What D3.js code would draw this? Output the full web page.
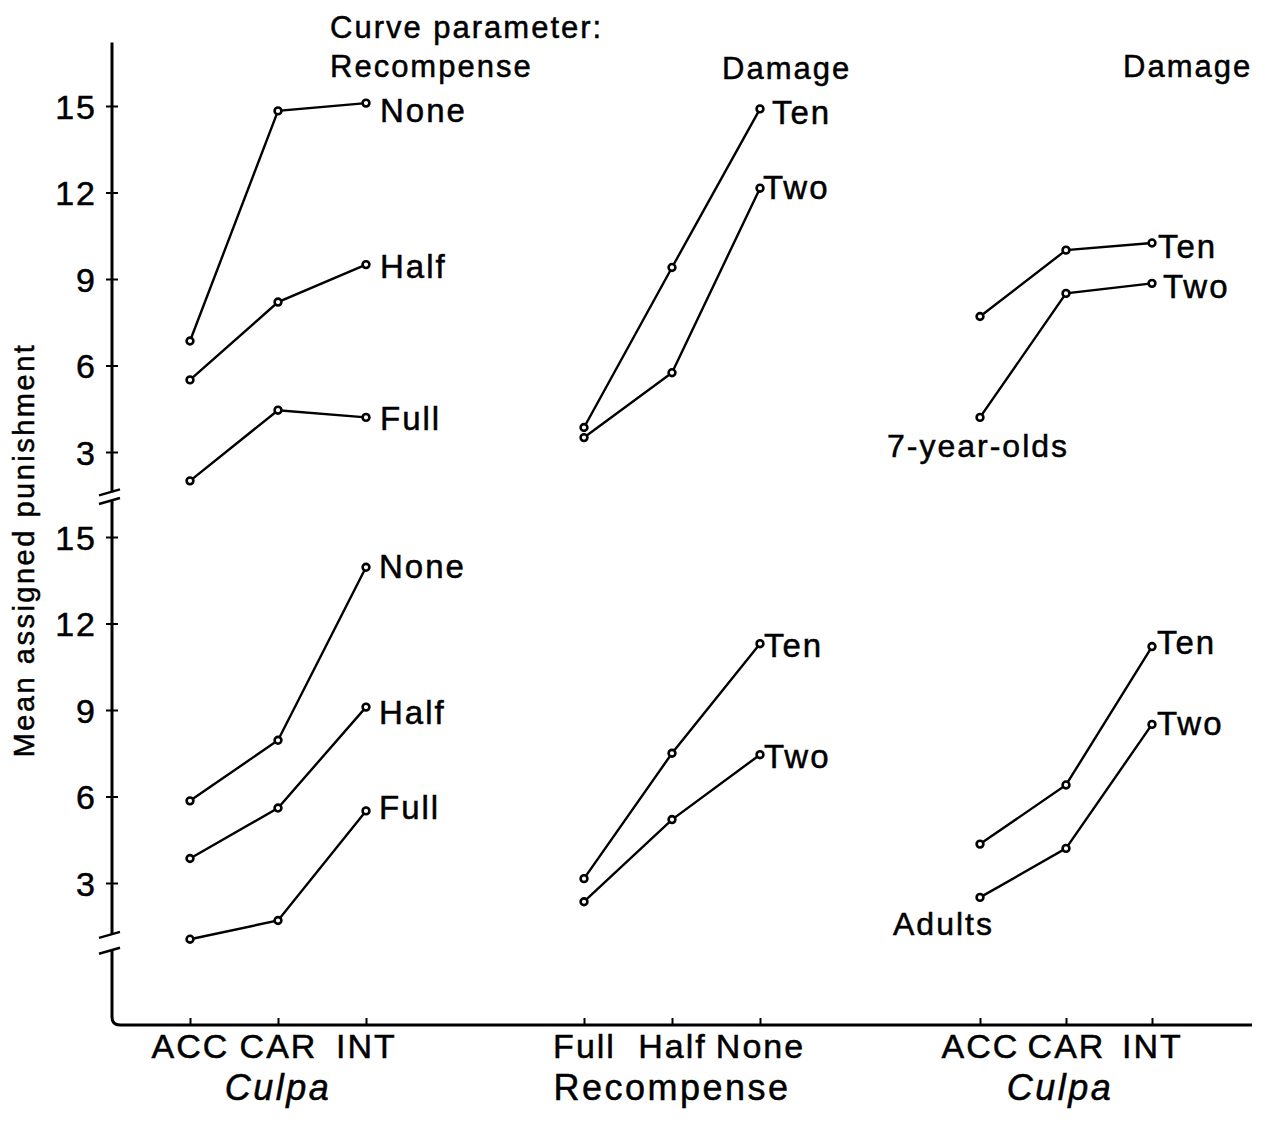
<!DOCTYPE html>
<html>
<head>
<meta charset="utf-8">
<script src="https://cdn.jsdelivr.net/npm/d3@7"></script>
<style>
  body { margin: 0; background: #fff; }
  svg { display: block; font-family: "Liberation Sans", Arial, sans-serif; }
  svg text { stroke: black; stroke-width: 0.5px; }
</style>
</head>
<body>
<div id="chart"></div>
<script>
// categories
var culpaLevels = ["ACC", "CAR", "INT"]
var recompLevels = ["Full", "Half", "None"]
var yTicks = [3, 6, 9, 12, 15]

// 7-year-olds (top)
var kidsCulpaNone = [6.85, 14.83, 15.1]
var kidsCulpaHalf = [5.5, 8.2, 9.5]
var kidsCulpaFull = [2.0, 4.45, 4.2]
var kidsRecompTen = [3.85, 9.4, 14.9]
var kidsRecompTwo = [3.5, 5.75, 12.15]
var kidsCulpaTen = [7.7, 10.0, 10.25]
var kidsCulpaTwo = [4.2, 8.5, 8.85]

// adults (bottom)
var adultCulpaNone = [5.85, 7.95, 13.95]
var adultCulpaHalf = [3.85, 5.6, 9.1]
var adultCulpaFull = [1.05, 1.7, 5.5]
var adultRecompTen = [3.15, 7.5, 11.3]
var adultRecompTwo = [2.35, 5.2, 7.45]
var adultCulpaTen = [4.35, 6.4, 11.2]
var adultCulpaTwo = [2.5, 4.2, 8.5]

var width = 1267, height = 1124
var axisX = 112, axisY = 1025

var svg = d3.select("#chart")
    .append("svg")
        .attr("width", width)
        .attr("height", height)

// scales
var yTop = d3.scaleLinear().domain([3, 15]).range([452, 106])
var yBot = d3.scaleLinear().domain([3, 15]).range([883, 537])

var xL = d3.scalePoint().domain(culpaLevels).range([190, 366])
var xM = d3.scalePoint().domain(recompLevels).range([584, 760])
var xR = d3.scalePoint().domain(culpaLevels).range([980, 1152])

var panels = [
    { x: xL, y: yTop, levels: culpaLevels, dx: 14, series: [
        { name: "None", values: kidsCulpaNone, dy: 7 },
        { name: "Half", values: kidsCulpaHalf, dy: 2 },
        { name: "Full", values: kidsCulpaFull, dy: 1 } ] },
    { x: xM, y: yTop, levels: recompLevels, dx: 8, series: [
        { name: "Ten", values: kidsRecompTen, dy: 3, dx: 12 },
        { name: "Two", values: kidsRecompTwo, dy: -1, dx: 3 } ] },
    { x: xR, y: yTop, levels: culpaLevels, dx: 8, series: [
        { name: "Ten", values: kidsCulpaTen, dy: 3, dx: 6 },
        { name: "Two", values: kidsCulpaTwo, dy: 3, dx: 11 } ] },
    { x: xL, y: yBot, levels: culpaLevels, dx: 13, series: [
        { name: "None", values: adultCulpaNone, dy: -1 },
        { name: "Half", values: adultCulpaHalf, dy: 5 },
        { name: "Full", values: adultCulpaFull, dy: -4 } ] },
    { x: xM, y: yBot, levels: recompLevels, dx: 4, series: [
        { name: "Ten", values: adultRecompTen, dy: 1 },
        { name: "Two", values: adultRecompTwo, dy: 1 } ] },
    { x: xR, y: yBot, levels: culpaLevels, dx: 5, series: [
        { name: "Ten", values: adultCulpaTen, dy: -4 },
        { name: "Two", values: adultCulpaTwo, dy: -1 } ] }
]

// Y axes (ticks + labels), domain drawn by hand below
function yAxis(scale) {
    var g = svg.append("g")
        .attr("transform", "translate(" + axisX + ",0)")
        .style("font-size", "34px")
        .style("letter-spacing", "2px")
        .call(d3.axisLeft(scale).tickValues(yTicks).tickSize(6).tickPadding(9))
    g.select(".domain").remove()
    g.selectAll(".tick line").attr("x1", 6).attr("stroke-width", 2)
    g.selectAll(".tick text").attr("dy", "0.36em")
    return g
}
yAxis(yTop)
yAxis(yBot)

var axisLine = svg.append("g")
    .attr("fill", "none")
    .attr("stroke", "black")
    .attr("stroke-width", 3)

// axis segments with breaks
axisLine.append("line")
    .attr("x1", axisX).attr("x2", axisX)
    .attr("y1", yTop(17.2)).attr("y2", yTop(1.6))
axisLine.append("line")
    .attr("x1", axisX).attr("x2", axisX)
    .attr("y1", yBot(16.25)).attr("y2", yBot(1.2))
axisLine.append("path")
    .attr("d", "M" + axisX + "," + yBot(0.65) +
        "L" + axisX + "," + (axisY - 8) +
        "Q" + axisX + "," + axisY + " " + (axisX + 8) + "," + axisY +
        "L1252," + axisY)

// break slashes
var breaks = [yTop(1.6), yBot(16.25), yBot(1.2), yBot(0.65)]
axisLine.selectAll(".brk")
    .data(breaks)
    .join("line")
        .attr("class", "brk")
        .attr("stroke-width", 2.5)
        .attr("x1", axisX - 13).attr("x2", axisX + 8)
        .attr("y1", d => d + 3).attr("y2", d => d - 3)

// X axes
function xAxis(scale) {
    var g = svg.append("g")
        .attr("transform", "translate(0," + axisY + ")")
        .style("font-size", "34px")
        .style("letter-spacing", "2px")
        .call(d3.axisBottom(scale).tickSize(-7).tickPadding(9))
    g.select(".domain").remove()
    g.selectAll(".tick line").attr("stroke-width", 2)
    return g
}
xAxis(xL)
xAxis(xM)
xAxis(xR)

// X axis titles
var xTitles = [
    { text: "Culpa", x: d3.mean(xL.range()), italic: true },
    { text: "Recompense", x: d3.mean(xM.range()), italic: false },
    { text: "Culpa", x: d3.mean(xR.range()) - 6, italic: true }
]
svg.selectAll(".xtitle")
    .data(xTitles)
    .join("text")
        .attr("class", "xtitle")
        .attr("x", d => d.x)
        .attr("y", 1100)
        .attr("text-anchor", "middle")
        .attr("font-size", "36px")
        .attr("letter-spacing", "2.5px")
        .attr("font-style", d => d.italic ? "italic" : "normal")
        .text(d => d.text)

// Y label
svg.append("text")
    .attr("transform", "translate(34,550) rotate(-90)")
    .attr("text-anchor", "middle")
    .attr("font-size", "29px")
    .attr("letter-spacing", "2.5px")
    .text("Mean assigned punishment")

// curves
panels.forEach(function(p) {
    var line = d3.line()
        .x((d, i) => p.x(p.levels[i]))
        .y(d => p.y(d))

    var g = svg.append("g")

    g.selectAll("path")
        .data(p.series)
        .join("path")
            .attr("d", d => line(d.values))
            .attr("fill", "none")
            .attr("stroke", "black")
            .attr("stroke-width", 2.4)

    p.series.forEach(function(s) {
        g.selectAll(null)
            .data(s.values)
            .join("circle")
                .attr("cx", (d, i) => p.x(p.levels[i]))
                .attr("cy", d => p.y(d))
                .attr("r", 3.4)
                .attr("fill", "white")
                .attr("stroke", "black")
                .attr("stroke-width", 2.6)
    })

    g.selectAll("text")
        .data(p.series)
        .join("text")
            .attr("x", d => p.x(p.levels[2]) + (d.dx != null ? d.dx : p.dx))
            .attr("y", d => p.y(d.values[2]) + d.dy)
            .attr("dy", "0.36em")
            .attr("font-size", "33px")
            .attr("letter-spacing", "2px")
            .text(d => d.name)
})

// panel notes
svg.append("text")
    .attr("x", xR("ACC") - 93)
    .attr("y", yTop(kidsCulpaTwo[0]) + 40)
    .attr("font-size", "32px")
    .attr("letter-spacing", "2px")
    .text("7-year-olds")

svg.append("text")
    .attr("x", xR("ACC") - 87)
    .attr("y", yBot(adultCulpaTwo[0]) + 38)
    .attr("font-size", "32px")
    .attr("letter-spacing", "2px")
    .text("Adults")

// curve parameter headers
var headers = [
    { text: "Curve parameter:", x: 330, y: 38 },
    { text: "Recompense", x: 330, y: 77 },
    { text: "Damage", x: 722, y: 79 },
    { text: "Damage", x: 1123, y: 77 }
]
svg.selectAll(".hdr")
    .data(headers)
    .join("text")
        .attr("class", "hdr")
        .attr("x", d => d.x)
        .attr("y", d => d.y)
        .attr("font-size", "31px")
        .attr("letter-spacing", "2px")
        .text(d => d.text)
</script>
</body>
</html>
